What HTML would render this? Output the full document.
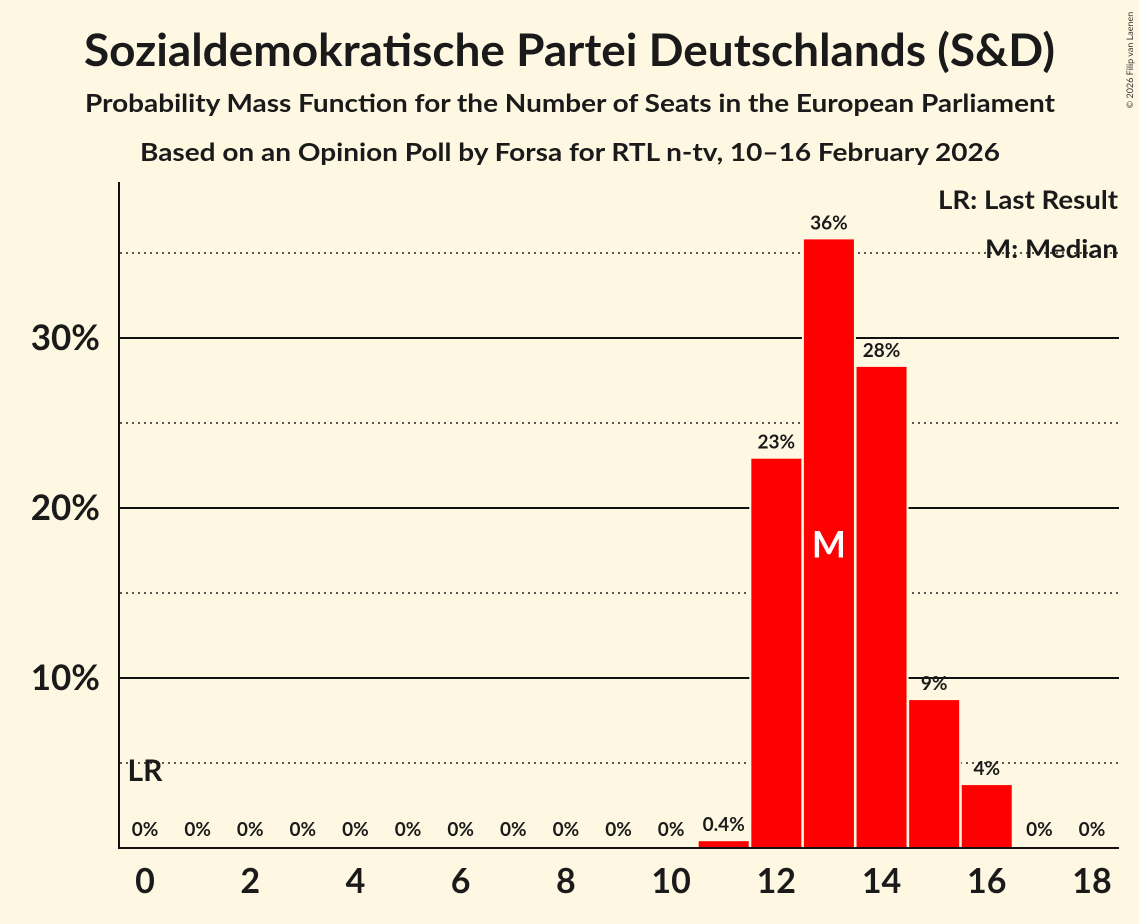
<!DOCTYPE html>
<html><head><meta charset="utf-8"><style>
body{margin:0;background:#fef7e1;}
svg{display:block;font-family:"Lato","Liberation Sans",sans-serif;}
</style></head><body>
<svg id="c" width="1139" height="924" viewBox="0 0 1139 924">
<rect width="1139" height="924" fill="#fef7e1"/>
<text x="84" y="66" textLength="971" lengthAdjust="spacingAndGlyphs" font-size="45" font-weight="bold" fill="#1a1a1a">Sozialdemokratische Partei Deutschlands (S&amp;D)</text>
<text x="85" y="112" textLength="970" lengthAdjust="spacingAndGlyphs" font-size="25" font-weight="bold" fill="#1a1a1a">Probability Mass Function for the Number of Seats in the European Parliament</text>
<text x="140" y="161" textLength="860" lengthAdjust="spacingAndGlyphs" font-size="25" font-weight="bold" fill="#1a1a1a">Based on an Opinion Poll by Forsa for RTL n-tv, 10–16 February 2026</text>
<text x="1133" y="60" font-size="9" fill="#333" transform="rotate(-90 1133 60)" text-anchor="middle">© 2026 Filip van Laenen</text>
<g id="grid"></g>
<g id="bars"></g>
<g id="labels"></g>
<line x1="119" y1="182" x2="119" y2="849" stroke="#111" stroke-width="2"/>
<line x1="118" y1="848" x2="1119" y2="848" stroke="#111" stroke-width="2"/>
<text x="938" y="209" textLength="180" lengthAdjust="spacingAndGlyphs" font-size="26" font-weight="bold" fill="#1a1a1a">LR: Last Result</text>
<text x="985" y="258" textLength="133" lengthAdjust="spacingAndGlyphs" font-size="26" font-weight="bold" fill="#1a1a1a">M: Median</text>
</svg>
<script>
const seats=[0,1,2,3,4,5,6,7,8,9,10,11,12,13,14,15,16,17,18];
const probs=[0,0,0,0,0,0,0,0,0,0,0,0.4,22.9,35.8,28.3,8.7,3.7,0,0];
const valueLabels=["0%","0%","0%","0%","0%","0%","0%","0%","0%","0%","0%","0.4%","23%","36%","28%","9%","4%","0%","0%"];
const xTicks=[0,2,4,6,8,10,12,14,16,18];
const yMajor=[10,20,30];
const yMinor=[5,15,25,35];
const median=13, lastResult=0;
const NS="http://www.w3.org/2000/svg";
const x=s=>145+s*52.61;
const y=v=>848-v*17;
function mk(t,a,p){const e=document.createElementNS(NS,t);for(const k in a)e.setAttribute(k,a[k]);p.appendChild(e);return e;}
const g=document.getElementById('grid'),b=document.getElementById('bars'),l=document.getElementById('labels'),svg=document.getElementById('c');
yMinor.forEach(v=>{const e=mk('line',{x1:120,x2:1119,y1:y(v),y2:y(v),stroke:'#222','stroke-width':1.5,'stroke-dasharray':'2,4'},g);

});
yMajor.forEach(v=>{const e=mk('line',{x1:120,x2:1119,y1:y(v),y2:y(v),stroke:'#111','stroke-width':2},g);


const t=mk('text',{x:100,y:y(v)+12,'text-anchor':'end','font-size':35,'font-weight':'bold',fill:'#1a1a1a'},svg);t.textContent=v+'%';

});
seats.forEach((s,i)=>{const v=probs[i];
if(v>0){const bg=mk('rect',{x:x(s)-27,y:y(v)-3,width:54,height:848-y(v)+3,fill:'#fef7e1'},b);


const r=mk('rect',{x:x(s)-25,y:y(v),width:50,height:848-y(v),fill:'#ff0000'},b);

}
const t=mk('text',{x:x(s),y:v>0?y(v)-10:836,'text-anchor':'middle','font-size':19,'font-weight':'bold',fill:'#1a1a1a'},l);t.textContent=valueLabels[i];

});
xTicks.forEach(s=>{const t=mk('text',{x:x(s),y:893,'text-anchor':'middle','font-size':34,'font-weight':'bold',fill:'#1a1a1a'},svg);t.textContent=s;

});
const m=mk('text',{x:x(median),y:y(probs[median]/2)+14,'text-anchor':'middle','font-size':36,'font-weight':'bold',fill:'#fff'},l);m.textContent='M';


const lr=mk('text',{x:x(lastResult),y:781,'text-anchor':'middle','font-size':30,'font-weight':'bold',fill:'#1a1a1a'},l);lr.textContent='LR';


</script>
</body></html>
